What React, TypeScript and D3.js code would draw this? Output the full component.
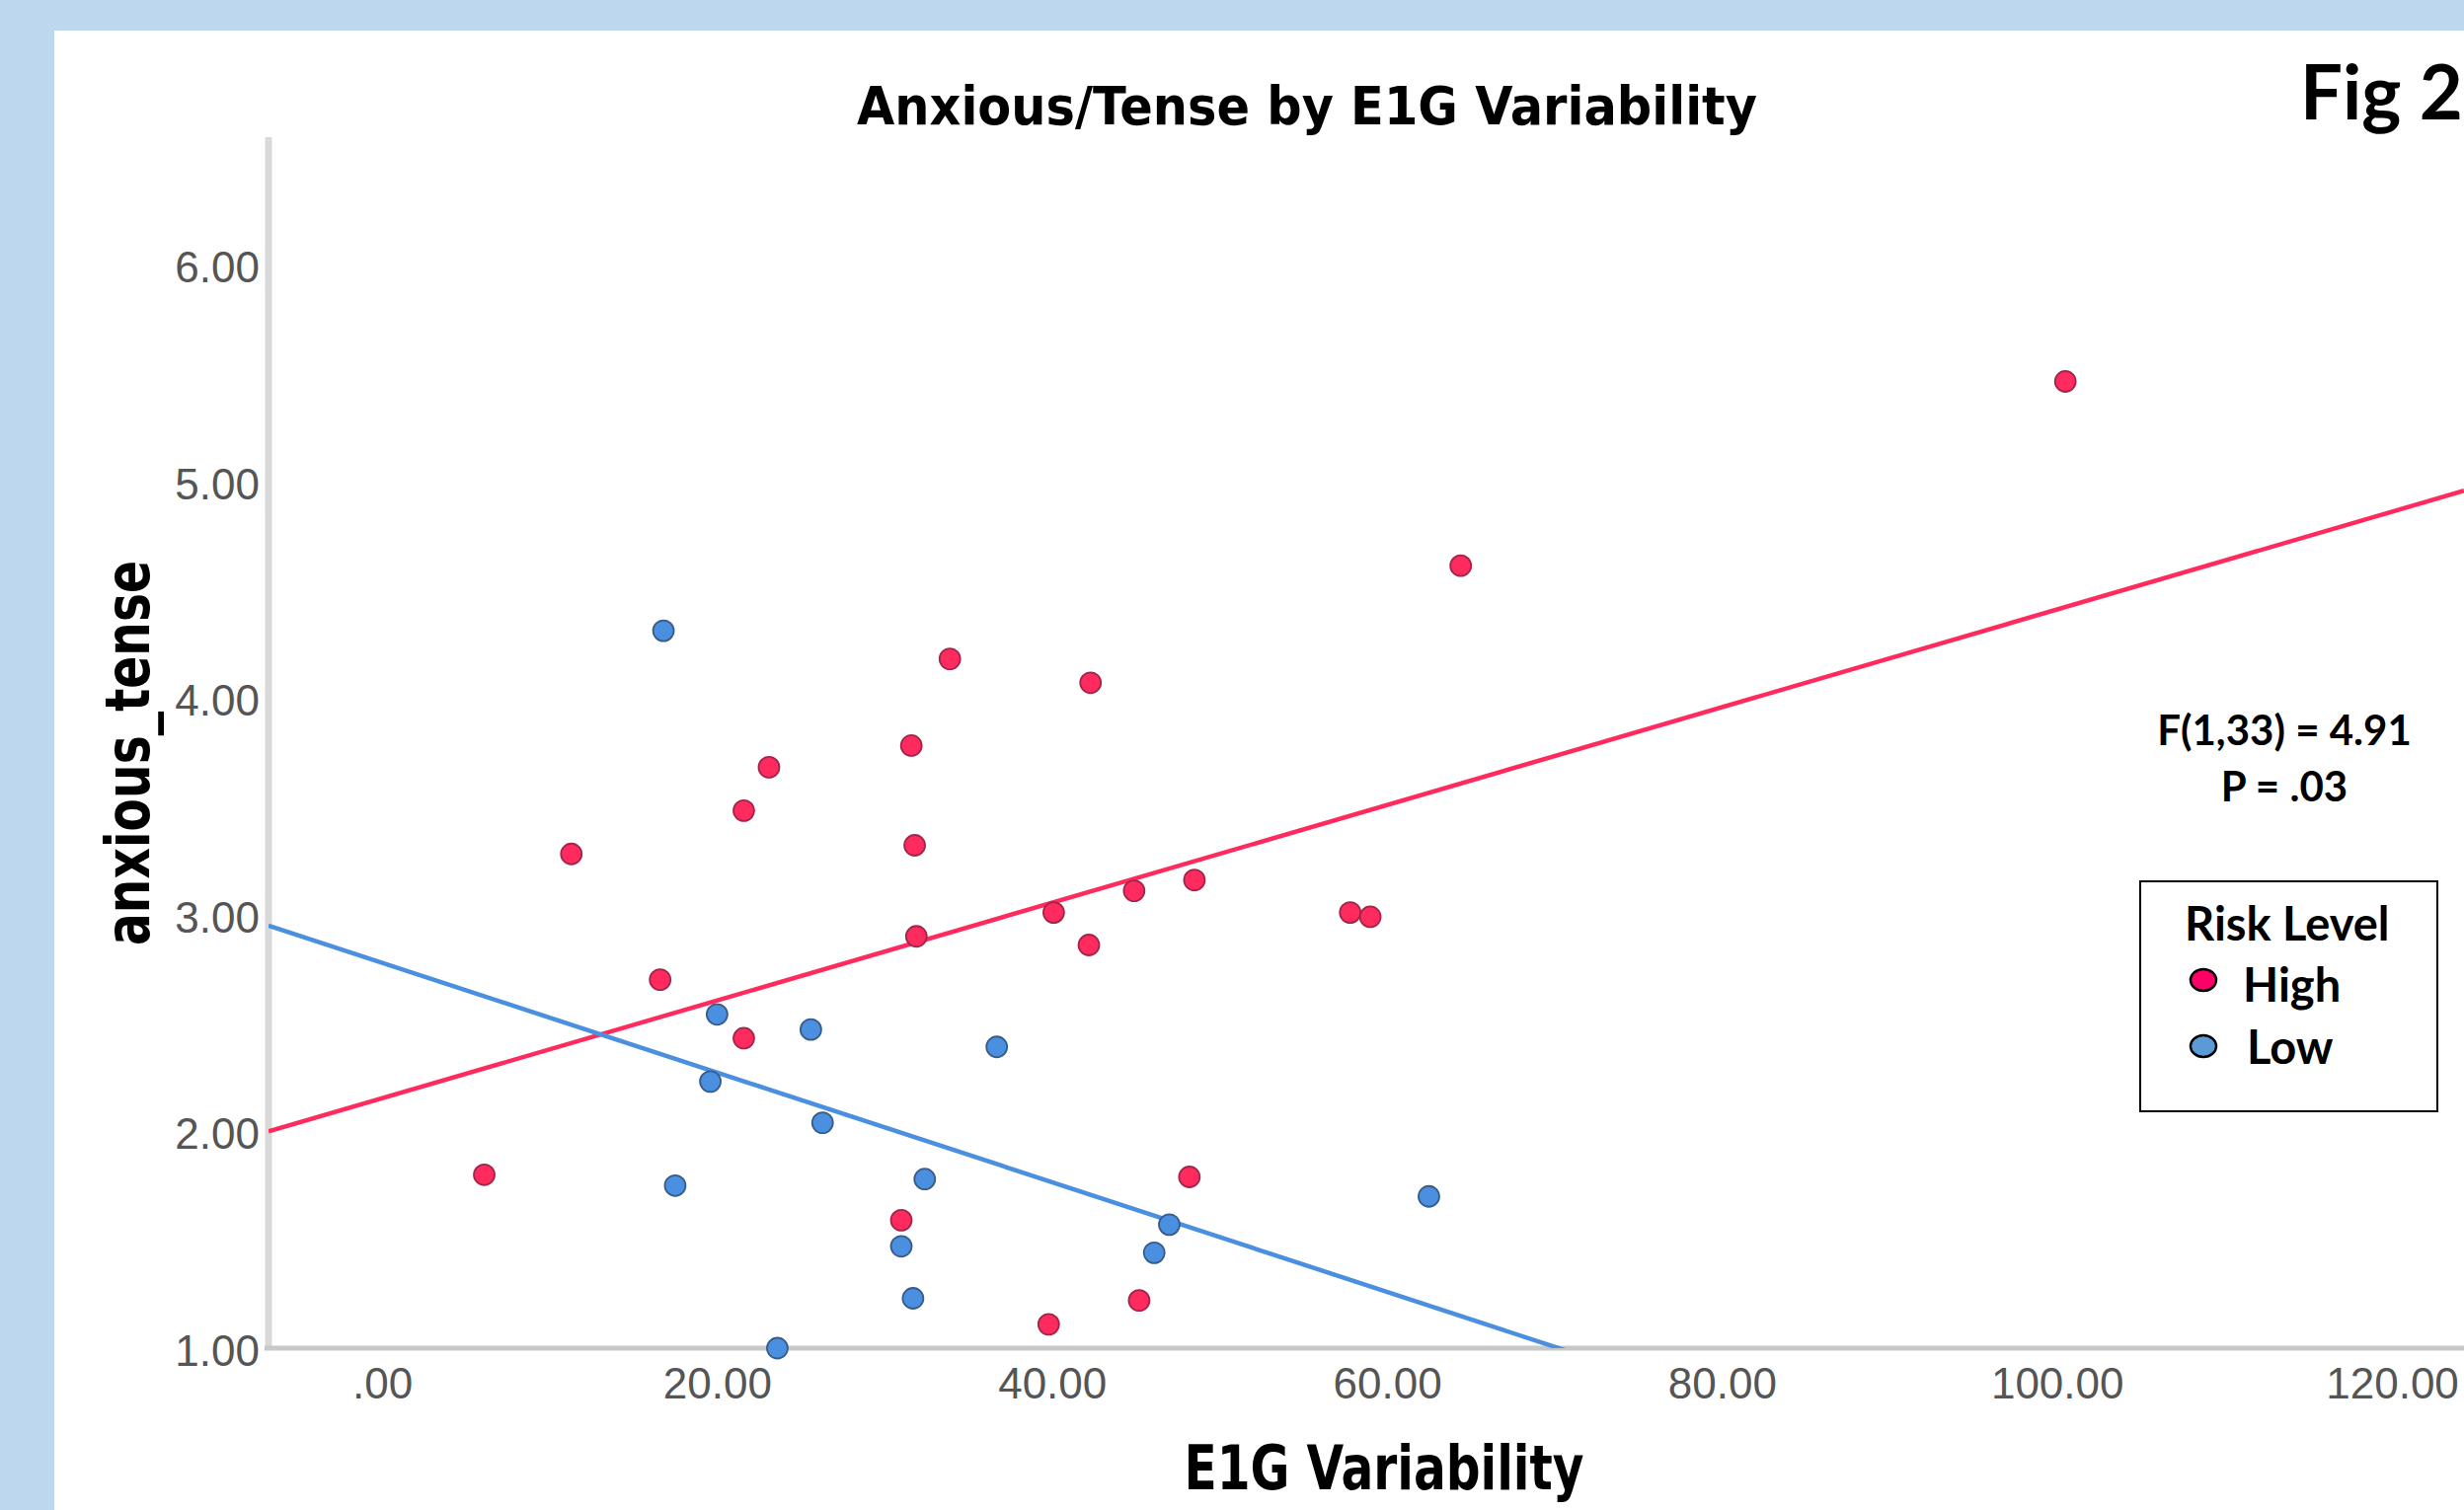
import React, { useEffect, useRef } from 'react';
import * as d3 from 'd3';

const W = 2496;
const H = 1530;

// High risk group (E1G variability, anxious_tense)
const highX = [6.1, 11.3, 16.6, 21.6, 21.6, 23.1, 31.6, 31.8, 31.9, 31.0, 33.9, 39.8, 40.1, 42.2, 42.3, 44.9, 45.2, 48.2, 48.5, 57.8, 59.0, 64.4, 100.5];
const highY = [1.80, 3.28, 2.70, 3.48, 2.43, 3.68, 3.78, 3.32, 2.90, 1.59, 4.18, 1.11, 3.01, 2.86, 4.07, 3.11, 1.22, 1.79, 3.16, 3.01, 2.99, 4.61, 5.46];

// Low risk group
const lowX = [16.8, 20.0, 19.6, 17.5, 23.6, 25.6, 26.3, 32.4, 31.0, 31.7, 36.7, 46.1, 47.0, 62.5];
const lowY = [4.31, 2.54, 2.23, 1.75, 1.00, 2.47, 2.04, 1.78, 1.47, 1.23, 2.39, 1.44, 1.57, 1.70];

// fit lines, one per group (High, Low)
const groups = ['High', 'Low'];
const fitIntercept = [2.153, 2.778];
const fitSlope = [0.02255, -0.02531];

const xTicks = [0, 20, 40, 60, 80, 100, 120];
const yTicks = [1, 2, 3, 4, 5, 6];
const xDomain = [-6.78, 124.3];
const yDomain = [1, 6.587];

const statLines = ['F(1,33) = 4.91', 'P = .03'];

const dotFill = { High: '#ff2b5e', Low: '#4a8fe0' };
const dotStroke = { High: '#a3264a', Low: '#3a5c88' };
const legendFill = { High: '#ff0066', Low: '#5b9bd5' };

const App = () => {
  const xAxisRef = useRef(null);
  const yAxisRef = useRef(null);

  const x = d3.scaleLinear().domain(xDomain).range([272, W]);
  const y = d3.scaleLinear().domain(yDomain).range([1366, 139]);

  useEffect(() => {
    const fmt = (d) => (d === 0 ? '.00' : d3.format('.2f')(d));

    const gx = d3.select(xAxisRef.current);
    gx.selectAll('*').remove();
    gx.call(d3.axisBottom(x).tickValues(xTicks).tickSize(0).tickFormat(fmt));
    gx.select('.domain').remove();
    gx.attr('font-size', 44).attr('font-family', '"Liberation Sans", Arial, sans-serif');
    gx.selectAll('text').attr('y', 36).attr('dy', '0.35em').attr('fill', '#555');

    const gy = d3.select(yAxisRef.current);
    gy.selectAll('*').remove();
    gy.call(d3.axisLeft(y).tickValues(yTicks).tickSize(0).tickPadding(9).tickFormat(fmt));
    gy.select('.domain').remove();
    gy.attr('font-size', 44).attr('font-family', '"Liberation Sans", Arial, sans-serif');
    gy.selectAll('text').attr('dy', '0.4em').attr('fill', '#555');
  }, []);

  const line = d3
    .line()
    .x((d) => x(d[0]))
    .y((d) => y(d[1]));

  const points = [
    ...highX.map((v, i) => ({ g: 'High', x: v, y: highY[i] })),
    ...lowX.map((v, i) => ({ g: 'Low', x: v, y: lowY[i] })),
  ];

  const sans = '"DejaVu Sans", Verdana, sans-serif';
  const calibri = 'Lato, "Open Sans", sans-serif';

  return (
    <svg
      width={W}
      height={H}
      style={{ position: 'absolute', left: 0, top: 0, display: 'block' }}
    >
      <rect x={0} y={0} width={W} height={H} fill="#bdd7ee" />
      <rect x={55} y={31} width={W - 55} height={H - 31} fill="#ffffff" />

      <defs>
        <clipPath id="plotClip">
          <rect x={272} y={139} width={W - 272} height={1366 - 139} />
        </clipPath>
      </defs>

      {/* title */}
      <text
        x={1324}
        y={126}
        textAnchor="middle"
        fontFamily={sans}
        fontWeight="bold"
        fontSize={54}
        textLength={912}
        lengthAdjust="spacingAndGlyphs"
        fill="#000"
      >
        Anxious/Tense by E1G Variability
      </text>

      <text x={2330} y={121} fontFamily={calibri} fontWeight="bold" fontSize={76} fill="#000">
        Fig 2
      </text>

      {/* axis lines */}
      <line x1={272} x2={272} y1={139} y2={1368} stroke="#d9d9d9" strokeWidth={7} />
      <line x1={268} x2={W} y1={1366} y2={1366} stroke="#c8c8c8" strokeWidth={5} />

      <g ref={xAxisRef} transform="translate(0,1366)" />
      <g ref={yAxisRef} transform="translate(272,0)" />

      {/* fit lines */}
      <g clipPath="url(#plotClip)">
        {groups.map((g, i) => (
          <path
            key={g}
            d={line(xDomain.map((v) => [v, fitIntercept[i] + fitSlope[i] * v]))}
            fill="none"
            stroke={dotFill[g]}
            strokeWidth={4.5}
          />
        ))}
      </g>

      {/* points */}
      <g>
        {points.map((p, i) => (
          <circle
            key={i}
            cx={x(p.x)}
            cy={y(p.y)}
            r={10.5}
            fill={dotFill[p.g]}
            stroke={dotStroke[p.g]}
            strokeWidth={1.8}
          />
        ))}
      </g>

      {/* axis titles */}
      <text
        x={1402}
        y={1509}
        textAnchor="middle"
        fontFamily={sans}
        fontWeight="bold"
        fontSize={63}
        textLength={405}
        lengthAdjust="spacingAndGlyphs"
        fill="#000"
      >
        E1G Variability
      </text>
      <text
        transform="translate(151,763) rotate(-90)"
        textAnchor="middle"
        fontFamily={sans}
        fontWeight="bold"
        fontSize={63}
        textLength={390}
        lengthAdjust="spacingAndGlyphs"
        fill="#000"
      >
        anxious_tense
      </text>

      {/* statistics */}
      {statLines.map((s, i) => (
        <text
          key={s}
          x={2314}
          y={755 + i * 57}
          textAnchor="middle"
          fontFamily={calibri}
          fontWeight="bold"
          fontSize={42}
          fill="#000"
        >
          {s}
        </text>
      ))}

      {/* legend */}
      <rect x={2168} y={893} width={301} height={233} fill="#fff" stroke="#000" strokeWidth={2} />
      <text x={2213} y={953} fontFamily={calibri} fontWeight="bold" fontSize={47} fill="#000">
        Risk Level
      </text>
      {groups.map((g, i) => (
        <g key={g}>
          <ellipse
            cx={2232}
            cy={993 + i * 67}
            rx={13}
            ry={11}
            fill={legendFill[g]}
            stroke="#000"
            strokeWidth={2.5}
          />
          <text
            x={2272 + i * 4}
            y={1015 + i * 63}
            fontFamily={calibri}
            fontWeight="bold"
            fontSize={47}
            fill="#000"
          >
            {g}
          </text>
        </g>
      ))}
    </svg>
  );
};

export default App;
